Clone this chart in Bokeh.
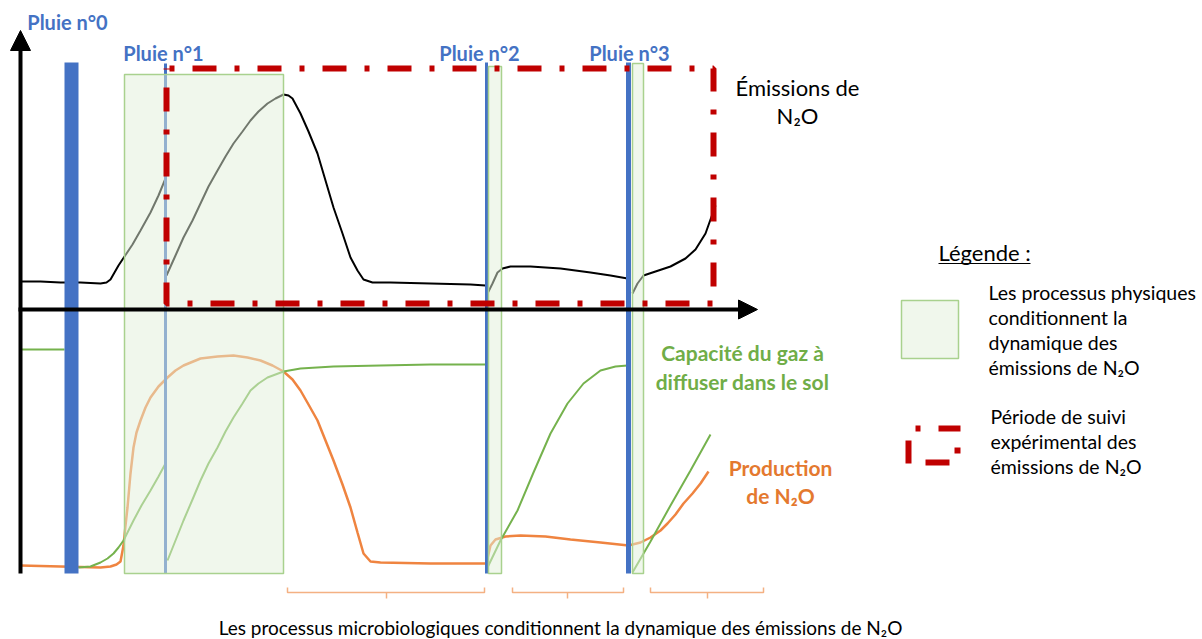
from bokeh.plotting import figure
from bokeh.models import Range1d, Arrow, NormalHead
from bokeh.core.properties import value
from bokeh.embed import file_html
from bokeh.resources import INLINE

# ---------------- data (in picture units) ----------------
# axes
axis_x0, axis_x1 = 20, 757
axis_y_bottom, axis_y_top = 573, 30
axis_level = 309

# rain events
rain_labels = ["Pluie n°0", "Pluie n°1", "Pluie n°2", "Pluie n°3"]
rain_x = [71, 165, 486, 628]
rain_top = [62, 63, 62, 62]
rain_label_x = [67, 163, 479, 629]
rain_label_y = [21, 52, 52, 52]

# physical-process windows (green boxes)
phys_left = [124, 488, 632]
phys_right = [283, 501, 643]
phys_top = [74, 66, 63]
phys_bottom = [573, 573, 573]

# experimental monitoring period (red dash-dot box)
mon_left, mon_right, mon_top, mon_bottom = 166, 713, 68, 303

# N2O emissions (black curve), segments between rains
emis_x1 = [20, 40, 60, 80, 100, 106, 110, 114, 118, 124, 132, 140, 150, 158, 165]
emis_y1 = [281, 281, 282, 282, 283, 282, 279, 272, 265, 256, 244, 230, 212, 195, 178]
emis_x2 = [166, 175, 183, 192, 200, 208, 217, 225, 233, 242, 250, 258, 267, 275, 283,
           288, 292, 300, 308, 317, 325, 333, 342, 350, 357, 363, 372, 390, 430, 470, 485]
emis_y2 = [275, 255, 237, 220, 203, 186, 170, 156, 143, 131, 120, 111, 103, 98, 94,
           95, 98, 113, 131, 153, 180, 207, 233, 257, 270, 279, 282, 282, 283, 284, 285]
emis_x3 = [487, 492, 497, 502, 510, 530, 560, 590, 610, 627]
emis_y3 = [293, 283, 272, 268, 266, 266, 268, 272, 275, 278]
emis_x4 = [632, 637, 643, 655, 670, 685, 695, 705, 715]
emis_y4 = [293, 283, 275, 271, 266, 258, 249, 233, 205]

# N2O production (orange curve)
prod_x1 = [20, 60, 100, 110, 116, 120, 123, 125, 127, 130, 133, 136, 140, 145, 150, 158,
           167, 175, 183, 200, 217, 233, 247, 260, 272, 283, 292, 300, 308, 317, 325,
           333, 342, 350, 357, 363, 370, 380, 430, 485]
prod_y1 = [565, 566, 567, 566, 564, 561, 545, 525, 507, 473, 447, 432, 420, 407, 397, 386,
           377, 370, 365, 358, 356, 355, 357, 360, 365, 371, 379, 390, 404, 420, 440,
           460, 484, 507, 532, 553, 561, 562, 563, 563]
prod_x2 = [487, 490, 495, 505, 520, 545, 570, 600, 628, 640, 650, 660, 667, 675, 683,
           692, 700, 708]
prod_y2 = [558, 545, 539, 536, 535, 536, 539, 542, 545, 542, 537, 530, 523, 514, 503,
           493, 483, 471]

# gas diffusion capacity in soil (green curve)
diff_x0 = [20, 64]
diff_y0 = [349, 349]
diff_x1 = [78, 90, 100, 107, 113, 118, 123, 128, 133, 141, 150, 158, 165]
diff_y1 = [567, 566, 562, 558, 553, 547, 540, 530, 520, 505, 490, 476, 463]
diff_x2 = [167, 175, 183, 192, 200, 208, 217, 225, 233, 242, 250, 258, 267, 275, 283,
           300, 333, 380, 430, 485]
diff_y2 = [560, 540, 520, 499, 480, 463, 447, 431, 417, 403, 390, 383, 377, 374, 371,
           368, 366, 365, 364, 364]
diff_x3 = [487, 500, 517, 533, 550, 567, 583, 600, 615, 627]
diff_y3 = [567, 540, 510, 472, 433, 403, 383, 370, 366, 365]
diff_x4 = [632, 650, 670, 690, 710]
diff_y4 = [572, 541, 505, 470, 434]

# microbiological-process brackets
brk_left = [287, 512, 650]
brk_right = [484, 623, 763]
brk_mid = [386, 567, 707]

# ---------------- styles ----------------
BLUE = "#4472C4"
RED = "#C00000"
GREEN_LINE = "#75B24D"
GREEN_TEXT = "#70AD47"
GREEN_BOX_FILL = "#E2F0D9"
GREEN_BOX_LINE = "#A9D18E"
ORANGE = "#EF8440"
ORANGE_TEXT = "#E4792F"
FONT = "Lato"

W, H = 1202, 639
p = figure(width=W, height=H, x_range=Range1d(0, W), y_range=Range1d(H, 0),
           output_backend="svg", toolbar_location=None,
           x_axis_location=None, y_axis_location=None, min_border=0)
p.grid.visible = False
p.outline_line_color = None
p.background_fill_color = "white"
p.border_fill_color = "white"

# axes with arrow heads
p.add_layout(Arrow(x_start=axis_x0, y_start=axis_y_bottom, x_end=axis_x0, y_end=axis_y_top,
                   line_width=4, line_color="black",
                   end=NormalHead(size=20, fill_color="black", line_color="black")))
p.add_layout(Arrow(x_start=axis_x0 - 2, y_start=axis_level, x_end=axis_x1, y_end=axis_level,
                   line_width=4, line_color="black",
                   end=NormalHead(size=19, fill_color="black", line_color="black")))

# curves (drawn below the green boxes)
for xs, ys in [(emis_x1, emis_y1), (emis_x2, emis_y2), (emis_x3, emis_y3), (emis_x4, emis_y4)]:
    p.line(xs, ys, line_color="black", line_width=2)
p.line(prod_x1, prod_y1, line_color=ORANGE, line_width=2.5)
p.line(prod_x2, prod_y2, line_color=ORANGE, line_width=2.5)
for xs, ys in [(diff_x0, diff_y0), (diff_x1, diff_y1), (diff_x2, diff_y2),
               (diff_x3, diff_y3), (diff_x4, diff_y4)]:
    p.line(xs, ys, line_color=GREEN_LINE, line_width=2)

# rain lines
rain_w = [14, 3, 3, 5]
for x, t, w in zip(rain_x, rain_top, rain_w):
    p.segment(x0=[x], y0=[t], x1=[x], y1=[axis_y_bottom], line_color=BLUE, line_width=w)

# green boxes (semi-transparent)
p.quad(left=phys_left, right=phys_right, top=phys_top, bottom=phys_bottom,
       fill_color=GREEN_BOX_FILL, fill_alpha=0.5, line_color=GREEN_BOX_LINE, line_width=1.5)

# red dash-dot monitoring box
p.line([mon_left, mon_right, mon_right, mon_left, mon_left],
       [mon_top, mon_top, mon_bottom, mon_bottom, mon_top],
       line_color=RED, line_width=6, line_dash="24 18 5 18", line_dash_offset=39)

# brackets
BR_Y, BR_END, BR_TIP = 592, 587, 598
for l, r, m in zip(brk_left, brk_right, brk_mid):
    p.line([l, l, r, r], [BR_END, BR_Y, BR_Y, BR_END], line_color="#F4B183", line_width=1.5)
    p.segment(x0=[m], y0=[BR_Y], x1=[m], y1=[BR_TIP], line_color="#F4B183", line_width=1.5)

# texts
def txt(x, y, t, size, color="black", align="left", bold=False):
    p.text(x=[x], y=[y], text=[t], text_font=value(FONT), text_font_size=size,
           text_color=color, text_align=align, text_baseline="middle",
           text_font_style="bold" if bold else "normal")

for lx, ly, lab in zip(rain_label_x, rain_label_y, rain_labels):
    txt(lx, ly, lab, "20px", BLUE, "center", True)

txt(797, 87, "Émissions de", "22px", "black", "center")
txt(797, 115, "N₂O", "22px", "black", "center")

txt(742, 352, "Capacité du gaz à", "21px", GREEN_TEXT, "center", True)
txt(742, 381, "diffuser dans le sol", "21px", GREEN_TEXT, "center", True)
txt(780, 467, "Production", "21px", ORANGE_TEXT, "center", True)
txt(780, 495, "de N₂O", "21px", ORANGE_TEXT, "center", True)

# legend
txt(938, 252, "Légende :", "22px", "black", "left")
p.segment(x0=[938], y0=[263], x1=[1030], y1=[263], line_color="black", line_width=1)
p.quad(left=[901], right=[958], top=[300], bottom=[358],
       fill_color=GREEN_BOX_FILL, fill_alpha=0.5, line_color=GREEN_BOX_LINE, line_width=1.5)
for i, t in enumerate(["Les processus  physiques", "conditionnent  la", "dynamique des",
                       "émissions de N₂O"]):
    txt(988, 292 + 25 * i, t, "19.5px")
p.multi_line(xs=[[915, 920], [938, 960], [908, 908], [957, 957], [925, 949]],
             ys=[[428, 428], [428, 428], [440, 463], [447, 453], [462, 462]],
             line_color=RED, line_width=6)
for i, t in enumerate(["Période de suivi", "expérimental des", "émissions de N₂O"]):
    txt(990, 416 + 25 * i, t, "19.5px")

txt(560, 627, "Les processus microbiologiques conditionnent la dynamique des émissions de N₂O",
    "19px", "black", "center")

open("out.html", "w").write(file_html(p, INLINE))
